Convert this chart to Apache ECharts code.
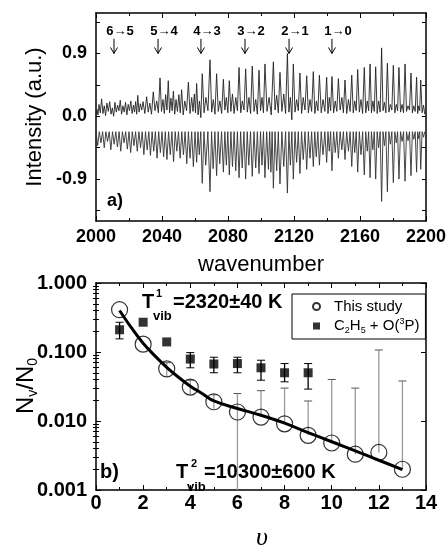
<!DOCTYPE html>
<html>
<head>
<meta charset="utf-8">
<script src="https://cdn.jsdelivr.net/npm/echarts@6/dist/echarts.min.js"></script>
<style>
html, body { margin: 0; background: #fff; }
#chart { width: 448px; height: 552px; }
</style>
</head>
<body>
<div id="chart"></div>
<script>
var FONT = '"Liberation Sans", Arial, sans-serif';

// ---- panel a) ----
// measured spectrum: [wavenumber, peak, valley after the peak]
var expSpectrum = [
    [2000.6,0.10,0.02],[2001.8,0.17,0.05],[2003.4,0.25,0.04],[2005.0,0.15,0.01],[2006.6,0.19,0.07],
    [2008.3,0.21,0.03],[2009.9,0.12,0.00],[2011.5,0.20,0.06],[2013.1,0.16,0.08],[2014.7,0.23,0.03],
    [2016.3,0.15,0.06],[2017.9,0.20,0.02],[2019.5,0.17,0.08],[2021.1,0.22,0.04],[2022.7,0.16,0.06],
    [2024.0,0.21,0.03],[2025.3,0.30,0.06],[2026.9,0.18,0.09],[2028.5,0.21,0.04],[2030.7,0.28,0.06],
    [2032.6,0.19,0.03],[2034.7,0.35,0.08],[2036.8,0.22,0.05],[2038.8,0.55,0.07],[2040.6,0.24,0.04],
    [2042.2,0.31,0.09],[2043.8,0.51,0.05],[2045.4,0.26,0.08],[2046.9,0.36,0.03],[2048.5,0.24,0.07],
    [2050.2,0.31,0.05],[2051.9,0.38,0.02],[2053.8,0.22,0.08],[2056.0,0.49,0.04],[2058.0,0.27,0.07],
    [2059.6,0.32,0.05],[2061.0,0.47,0.02],[2062.7,0.22,-0.02],[2064.4,0.61,0.05],[2066.6,0.27,0.08],
    [2069.1,0.81,0.06],[2071.1,0.24,0.03],[2073.1,0.61,0.07],[2075.1,0.22,0.04],[2077.2,0.53,0.09],
    [2079.0,0.27,0.05],[2080.8,0.51,0.07],[2082.7,0.32,0.04],[2084.7,0.27,0.08],[2086.7,0.70,0.05],
    [2088.7,0.22,0.09],[2090.7,0.68,0.06],[2092.7,0.27,0.04],[2094.7,0.72,0.07],[2096.8,0.24,0.03],
    [2098.8,0.66,0.08],[2100.6,0.27,0.05],[2102.4,0.75,0.07],[2104.9,0.27,0.02],[2107.5,0.78,0.09],
    [2109.5,0.30,0.05],[2111.5,0.63,0.07],[2113.8,0.32,0.04],[2116.0,0.90,0.06],[2117.8,0.27,-0.05],
    [2119.6,0.75,0.06],[2121.6,0.24,0.08],[2123.6,0.62,0.04],[2125.6,0.27,0.09],[2127.7,0.58,0.05],
    [2129.7,0.24,0.07],[2131.7,0.64,0.04],[2133.6,0.22,0.08],[2135.4,0.59,0.05],[2137.6,0.24,0.07],
    [2139.8,0.56,0.04],[2141.4,0.27,0.08],[2143.0,0.57,0.05],[2145.0,0.22,0.07],[2146.9,0.54,0.09],
    [2149.0,0.27,0.05],[2150.9,0.52,0.04],[2153.0,0.24,0.07],[2155.0,0.59,0.05],[2156.8,0.22,0.08],
    [2158.6,0.67,0.06],[2160.6,0.24,0.04],[2162.6,0.70,0.05],[2164.4,0.22,0.08],[2166.1,0.75,0.05],
    [2167.8,0.22,0.07],[2169.5,0.71,0.04],[2171.3,0.22,0.06],[2173.1,0.98,0.08],[2174.8,0.20,0.05],
    [2176.6,0.76,0.06],[2178.4,0.17,0.09],[2180.2,0.73,0.05],[2182.0,0.17,0.08],[2183.6,0.70,0.06],
    [2185.5,0.17,0.05],[2187.3,0.75,0.07],[2189.1,0.15,0.09],[2190.9,0.62,0.05],[2192.6,0.15,0.07],
    [2194.3,0.56,0.04],[2195.6,0.15,0.08],[2196.8,0.52,0.05],[2198.5,0.16,0.03]
];
// simulated spectrum, drawn downwards: [wavenumber, line depth]
var simBaseline = -0.22;
var simSpectrum = [
    [2001,-0.42],[2003,-0.38],[2005,-0.45],[2007,-0.36],[2009,-0.48],[2011,-0.40],[2013,-0.44],
    [2015,-0.50],[2017,-0.38],[2019,-0.47],[2021,-0.52],[2023,-0.42],[2025,-0.50],[2027,-0.45],
    [2029,-0.55],[2031,-0.48],[2033,-0.56],[2035,-0.50],[2037,-0.60],[2039,-0.52],[2041,-0.58],
    [2043,-0.62],[2045,-0.55],[2047,-0.65],[2049,-0.50],[2051,-0.60],[2053,-0.55],[2055,-0.68],
    [2057,-0.60],[2059,-0.72],[2061,-0.66],[2062.6,-0.55],[2064.4,-0.96],[2066.5,-0.70],[2069.1,-1.08],
    [2071,-0.75],[2073.1,-0.85],[2075,-0.68],[2077.2,-0.80],[2079,-0.70],[2080.8,-0.84],[2082.7,-0.72],
    [2084.7,-0.78],[2086.7,-0.88],[2088.6,-0.74],[2090.7,-0.90],[2092.6,-0.70],[2094.7,-0.86],
    [2096.8,-0.74],[2098.8,-0.82],[2100.6,-0.70],[2102.4,-0.88],[2104.5,-0.76],[2106,-0.80],
    [2107.5,-1.03],[2109.5,-0.78],[2111.5,-0.97],[2113.8,-0.72],[2116,-1.10],[2117.8,-0.70],
    [2119.6,-0.90],[2121.6,-0.66],[2123.6,-0.82],[2125.6,-0.62],[2127.7,-0.76],[2129.7,-0.60],
    [2131.7,-0.72],[2133.5,-0.58],[2135.4,-0.70],[2137.6,-0.55],[2139.8,-0.66],[2141.4,-0.50],
    [2143,-0.78],[2145,-0.52],[2146.9,-0.60],[2149,-0.48],[2150.9,-0.62],[2153,-0.50],[2155,-0.72],
    [2156.8,-0.52],[2158.6,-0.80],[2160.6,-0.55],[2162.6,-0.84],[2164.4,-0.50],[2166.1,-0.88],
    [2167.8,-0.48],[2169.5,-0.90],[2171.3,-0.45],[2173.1,-1.22],[2174.8,-0.42],[2176.6,-1.08],
    [2178.4,-0.40],[2180.2,-0.95],[2182,-0.38],[2183.6,-0.90],[2185.5,-0.36],[2187.3,-0.93],
    [2189.1,-0.35],[2190.9,-0.85],[2192.6,-0.33],[2194.3,-0.80],[2195.6,-0.32],[2196.8,-0.76],
    [2198.5,-0.30]
];
var bandLabels = ['6\u21925', '5\u21924', '4\u21923', '3\u21922', '2\u21921', '1\u21920'];
var bandOrigins = [2010.9, 2037.6, 2063.6, 2090.3, 2117.0, 2143.0];
var intensityLabels = [-0.9, 0, 0.9];
var intensityTicks = [-1.35, -0.9, -0.45, 0, 0.45, 0.9, 1.35];

// ---- panel b) ----
var levels = [1, 2, 3, 4, 5, 6, 7, 8, 9, 10, 11, 12, 13];
var thisStudy = [0.41, 0.13, 0.057, 0.031, 0.019, 0.0135, 0.0114, 0.0091, 0.0062, 0.0048, 0.0033, 0.0035, 0.002];
var thisStudyHi = [0.41, 0.13, 0.07, 0.039, 0.024, 0.025, 0.0275, 0.030, 0.0195, 0.040, 0.030, 0.107, 0.038];
var thisStudyLo = [0.41, 0.13, 0.044, 0.0245, 0.015, 0.001, 0.0114, 0.0091, 0.0062, 0.0048, 0.0033, 0.0035, 0.002];
var refLevels = [1, 2, 3, 4, 5, 6, 7, 8, 9];
var refData = [0.21, 0.27, 0.14, 0.079, 0.067, 0.068, 0.059, 0.050, 0.050];
var refHi = [0.27, 0.27, 0.14, 0.098, 0.084, 0.084, 0.076, 0.068, 0.068];
var refLo = [0.155, 0.27, 0.14, 0.059, 0.050, 0.050, 0.039, 0.037, 0.029];
var fitLevels = [1, 1.5, 2, 2.5, 3, 3.5, 4, 4.5, 5, 6, 7, 8, 9, 10, 11, 12, 13];
var fitValues = [0.40, 0.225, 0.134, 0.088, 0.060, 0.043, 0.032, 0.025, 0.0195, 0.0152, 0.0121, 0.0093, 0.0068, 0.0050, 0.0037, 0.0027, 0.00198];
var logLabels = [0.001, 0.01, 0.1, 1];
var logMinorTicks = [0.002, 0.003, 0.004, 0.005, 0.006, 0.007, 0.008, 0.009,
    0.02, 0.03, 0.04, 0.05, 0.06, 0.07, 0.08, 0.09,
    0.2, 0.3, 0.4, 0.5, 0.6, 0.7, 0.8, 0.9];

// build line data
var expLine = [[2000, 0.0]];
for (var i = 0; i < expSpectrum.length; i++) {
    var e = expSpectrum[i];
    var next = i < expSpectrum.length - 1 ? expSpectrum[i + 1][0] : 2200;
    expLine.push([e[0], e[1]]);
    expLine.push([(e[0] + next) / 2, e[2]]);
}
var simLine = [[2000, simBaseline]];
for (var i = 0; i < simSpectrum.length; i++) {
    var s = simSpectrum[i];
    var next = i < simSpectrum.length - 1 ? simSpectrum[i + 1][0] : 2200;
    simLine.push([s[0], s[1]]);
    simLine.push([(s[0] + next) / 2, simBaseline]);
}
var bandData = bandOrigins.map(function (x, i) { return [x, i]; });
var circleData = levels.map(function (v, i) { return [v, thisStudy[i]]; });
var circleErr = levels.map(function (v, i) { return [v, thisStudyHi[i], thisStudyLo[i]]; });
var squareData = refLevels.map(function (v, i) { return [v, refData[i]]; });
var squareErr = refLevels.map(function (v, i) { return [v, refHi[i], refLo[i]]; });
var fitData = fitLevels.map(function (v, i) { return [v, fitValues[i]]; });

function errorBars(color, capColor, bothCaps) {
    return function (params, api) {
        var x = api.value(0);
        var top = api.coord([x, api.value(1)]);
        var bot = api.coord([x, api.value(2)]);
        if (Math.abs(top[1] - bot[1]) < 1) return null;
        var kids = [{
            type: 'line',
            shape: { x1: top[0], y1: top[1], x2: bot[0], y2: bot[1] },
            style: { stroke: color, lineWidth: 1.3 }
        }, {
            type: 'line',
            shape: { x1: top[0] - 4, y1: top[1], x2: top[0] + 4, y2: top[1] },
            style: { stroke: capColor, lineWidth: 1 }
        }];
        if (bothCaps) {
            kids.push({
                type: 'line',
                shape: { x1: bot[0] - 4, y1: bot[1], x2: bot[0] + 4, y2: bot[1] },
                style: { stroke: capColor, lineWidth: 1 }
            });
        }
        return { type: 'group', children: kids };
    };
}

var axisLine = { show: true, onZero: false, lineStyle: { color: '#000', width: 1.5 } };
var labelA = { fontFamily: FONT, fontWeight: 'bold', fontSize: 18, color: '#000' };
var labelB = { fontFamily: FONT, fontWeight: 'bold', fontSize: 20, color: '#000' };
var plain = function (v) { return String(v); };

var chart = echarts.init(document.getElementById('chart'), null, { renderer: 'canvas' });

var option = {
    animation: false,
    backgroundColor: '#fff',
    grid: [
        { left: 96, top: 13, width: 330, height: 208, outerBoundsMode: 'none' },
        { left: 96, top: 283, width: 330, height: 207, outerBoundsMode: 'none' }
    ],
    xAxis: [
        {
            gridIndex: 0, type: 'value', min: 2000, max: 2200, interval: 40, position: 'bottom',
            axisLine: axisLine, splitLine: { show: false },
            axisTick: { inside: true, length: 5, lineStyle: { color: '#000' } },
            minorTick: { show: true, splitNumber: 2, length: 3, lineStyle: { color: '#000' } },
            axisLabel: Object.assign({ margin: 7, showMinLabel: true, showMaxLabel: true, formatter: plain }, labelA)
        },
        {
            gridIndex: 0, type: 'value', min: 2000, max: 2200, interval: 40, position: 'top',
            axisLine: axisLine, splitLine: { show: false },
            axisTick: { inside: true, length: 5, lineStyle: { color: '#000' } },
            minorTick: { show: true, splitNumber: 2, length: 3, lineStyle: { color: '#000' } },
            axisLabel: { show: false }
        },
        {
            gridIndex: 1, type: 'value', min: 0, max: 14, interval: 2, position: 'bottom',
            axisLine: axisLine, splitLine: { show: false },
            axisTick: { inside: true, length: 5, lineStyle: { color: '#000' } },
            minorTick: { show: true, splitNumber: 2, length: 3, lineStyle: { color: '#000' } },
            axisLabel: Object.assign({ margin: 3, showMinLabel: true, showMaxLabel: true, formatter: plain }, labelB)
        },
        {
            gridIndex: 1, type: 'value', min: 0, max: 14, interval: 2, position: 'top',
            axisLine: axisLine, splitLine: { show: false },
            axisTick: { inside: true, length: 5, lineStyle: { color: '#000' } },
            minorTick: { show: true, splitNumber: 2, length: 3, lineStyle: { color: '#000' } },
            axisLabel: { show: false }
        }
    ],
    yAxis: [
        {
            gridIndex: 0, type: 'value', min: -1.5, max: 1.48, position: 'left',
            axisLine: axisLine, splitLine: { show: false },
            axisTick: { inside: true, length: 4, customValues: intensityTicks, lineStyle: { color: '#000' } },
            axisLabel: Object.assign({
                margin: 9, customValues: intensityLabels,
                formatter: function (v) { return v.toFixed(1); }
            }, labelA)
        },
        {
            gridIndex: 0, type: 'value', min: -1.5, max: 1.48, position: 'right',
            axisLine: axisLine, splitLine: { show: false },
            axisTick: { inside: true, length: 4, customValues: intensityTicks, lineStyle: { color: '#000' } },
            axisLabel: { show: false }
        },
        {
            gridIndex: 1, type: 'log', logBase: 10, min: 0.001, max: 1, position: 'left',
            axisLine: axisLine, splitLine: { show: false },
            axisTick: { inside: true, length: 5, customValues: logLabels, lineStyle: { color: '#000' } },
            axisLabel: Object.assign({
                margin: 9, customValues: logLabels,
                formatter: function (v) { return v.toFixed(3); }
            }, labelB)
        },
        {
            gridIndex: 1, type: 'log', logBase: 10, min: 0.001, max: 1, position: 'left',
            axisLine: { show: false }, splitLine: { show: false },
            axisTick: { inside: true, length: 3, customValues: logMinorTicks, lineStyle: { color: '#000' } },
            axisLabel: { show: false }
        },
        {
            gridIndex: 1, type: 'log', logBase: 10, min: 0.001, max: 1, position: 'right',
            axisLine: axisLine, splitLine: { show: false },
            axisTick: { inside: true, length: 5, customValues: logLabels, lineStyle: { color: '#000' } },
            axisLabel: { show: false }
        },
        {
            gridIndex: 1, type: 'log', logBase: 10, min: 0.001, max: 1, position: 'right',
            axisLine: { show: false }, splitLine: { show: false },
            axisTick: { inside: true, length: 3, customValues: logMinorTicks, lineStyle: { color: '#000' } },
            axisLabel: { show: false }
        }
    ],
    legend: {
        data: ['This study', 'C2H5 + O(3P)'],
        orient: 'vertical',
        left: 292, top: 294,
        padding: [5, 6, 4, 20],
        itemWidth: 7, itemHeight: 7, itemGap: 3,
        borderColor: '#000', borderWidth: 1,
        backgroundColor: '#fff',
        formatter: function (name) {
            if (name === 'This study') return '{t|This study}';
            return '{t|C}{s|2}{t|H}{s|5}{t| + O(}{p|3}{t|P)}';
        },
        textStyle: {
            fontFamily: FONT, fontSize: 15, color: '#000', padding: [0, 0, 0, 9],
            rich: {
                t: { fontFamily: FONT, fontSize: 15, color: '#000' },
                s: { fontFamily: FONT, fontSize: 9, color: '#000', padding: [9, 0, 0, 0] },
                p: { fontFamily: FONT, fontSize: 9, color: '#000', padding: [0, 0, 9, 0] }
            }
        }
    },
    series: [
        {
            name: 'simulated', type: 'line', xAxisIndex: 0, yAxisIndex: 0,
            data: simLine, showSymbol: false, silent: true,
            lineStyle: { color: '#333', width: 0.9 }
        },
        {
            name: 'measured', type: 'line', xAxisIndex: 0, yAxisIndex: 0,
            data: expLine, showSymbol: false, silent: true,
            lineStyle: { color: '#222', width: 0.9 }
        },
        {
            name: 'bands', type: 'custom', xAxisIndex: 0, yAxisIndex: 0,
            data: bandData, silent: true,
            renderItem: function (params, api) {
                var x = api.value(0);
                var p0 = api.coord([x, 1.11]);
                var p1 = api.coord([x, 0.9]);
                return {
                    type: 'group',
                    children: [
                        { type: 'line', shape: { x1: p0[0], y1: p0[1], x2: p1[0], y2: p1[1] },
                          style: { stroke: '#000', lineWidth: 1 } },
                        { type: 'polyline', shape: { points: [[p1[0] - 3.5, p1[1] - 6], [p1[0], p1[1]], [p1[0] + 3.5, p1[1] - 6]] },
                          style: { stroke: '#000', lineWidth: 1, fill: null } },
                        { type: 'text', x: p0[0] + 6, y: p0[1] - 7,
                          style: { text: bandLabels[api.value(1)], fontFamily: FONT, fontWeight: 'bold', fontSize: 13,
                                   fill: '#000', align: 'center', verticalAlign: 'middle' } }
                    ]
                };
            }
        },
        {
            name: 'thisStudyErr', type: 'custom', xAxisIndex: 2, yAxisIndex: 2,
            data: circleErr, silent: true, z: 1,
            renderItem: errorBars('#999', '#555', false)
        },
        {
            name: 'refErr', type: 'custom', xAxisIndex: 2, yAxisIndex: 2,
            data: squareErr, silent: true, z: 1,
            renderItem: errorBars('#000', '#000', true)
        },
        {
            name: 'fit', type: 'line', xAxisIndex: 2, yAxisIndex: 2,
            data: fitData, smooth: 0.4, showSymbol: false, silent: true, z: 2,
            lineStyle: { color: '#000', width: 3 }
        },
        {
            name: 'This study', type: 'scatter', xAxisIndex: 2, yAxisIndex: 2,
            data: circleData, symbol: 'circle', symbolSize: 16, z: 3,
            itemStyle: { color: 'rgba(255,255,255,0)', borderColor: '#000', borderWidth: 1.2 }
        },
        {
            name: 'C2H5 + O(3P)', type: 'scatter', xAxisIndex: 2, yAxisIndex: 2,
            data: squareData, symbol: 'rect', symbolSize: 9, z: 4,
            itemStyle: { color: '#000' }
        }
    ],
    graphic: [
        { type: 'text', x: 35, y: 117, rotation: Math.PI / 2,
          style: { text: 'Intensity (a.u.)', fontFamily: FONT, fontSize: 22, fill: '#000', align: 'center', verticalAlign: 'middle' } },
        { type: 'text', x: 261, y: 265,
          style: { text: 'wavenumber', fontFamily: FONT, fontSize: 22, fill: '#000', align: 'center', verticalAlign: 'middle' } },
        { type: 'text', x: 107, y: 201,
          style: { text: 'a)', fontFamily: FONT, fontWeight: 'bold', fontSize: 18, fill: '#000', verticalAlign: 'middle' } },
        { type: 'text', x: 100, y: 472,
          style: { text: 'b)', fontFamily: FONT, fontWeight: 'bold', fontSize: 20, fill: '#000', verticalAlign: 'middle' } },
        // T1vib
        { type: 'text', x: 142, y: 302,
          style: { text: 'T', fontFamily: FONT, fontWeight: 'bold', fontSize: 20, fill: '#000', verticalAlign: 'middle' } },
        { type: 'text', x: 156, y: 294,
          style: { text: '1', fontFamily: FONT, fontWeight: 'bold', fontSize: 11, fill: '#000', verticalAlign: 'middle' } },
        { type: 'text', x: 153, y: 316,
          style: { text: 'vib', fontFamily: FONT, fontWeight: 'bold', fontSize: 13, fill: '#000', verticalAlign: 'middle' } },
        { type: 'text', x: 173, y: 302,
          style: { text: '=2320\u00b140 K', fontFamily: FONT, fontWeight: 'bold', fontSize: 20, fill: '#000', verticalAlign: 'middle' } },
        // T2vib
        { type: 'text', x: 176, y: 472,
          style: { text: 'T', fontFamily: FONT, fontWeight: 'bold', fontSize: 20, fill: '#000', verticalAlign: 'middle' } },
        { type: 'text', x: 191, y: 464,
          style: { text: '2', fontFamily: FONT, fontWeight: 'bold', fontSize: 11, fill: '#000', verticalAlign: 'middle' } },
        { type: 'text', x: 187, y: 487,
          style: { text: 'vib', fontFamily: FONT, fontWeight: 'bold', fontSize: 13, fill: '#000', verticalAlign: 'middle' } },
        { type: 'text', x: 204, y: 472,
          style: { text: '=10300\u00b1600 K', fontFamily: FONT, fontWeight: 'bold', fontSize: 20, fill: '#000', verticalAlign: 'middle' } },
        // N_v / N_0
        { type: 'text', x: 26, y: 386, rotation: Math.PI / 2,
          style: {
              text: '{n|N}{s|v}{n|/N}{s|0}', align: 'center', verticalAlign: 'middle',
              rich: {
                  n: { fontFamily: FONT, fontSize: 24, fill: '#000' },
                  s: { fontFamily: FONT, fontSize: 14, fill: '#000', padding: [14, 0, 0, 0] }
              }
          } },
        { type: 'text', x: 262, y: 538,
          style: { text: '\u03c5', fontFamily: '"Liberation Serif", "DejaVu Serif", serif', fontStyle: 'italic', fontSize: 26, fill: '#000', align: 'center', verticalAlign: 'middle' } }
    ]
};

chart.setOption(option);
</script>
</body>
</html>
